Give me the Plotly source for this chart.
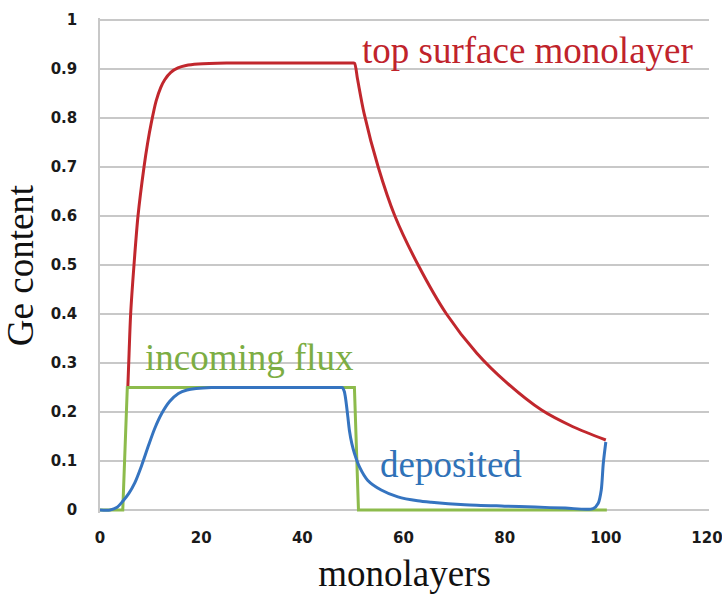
import plotly.graph_objects as go

# ---- data ----
top_x = [5.5, 5.75, 6.06, 6.72, 7.51, 8.7, 9.4, 10.14, 11.1, 12.0, 12.8, 14.0, 15.4, 17.0, 19.4, 25, 35, 45, 49.8,
         50.3, 50.9, 52.2, 55.0, 58.3, 62.9, 68.5, 74.5, 80.4, 87.3, 93.5, 100.0]
top_y = [0.25, 0.32, 0.40, 0.50, 0.60, 0.70, 0.748, 0.79, 0.835, 0.862, 0.878, 0.893, 0.902, 0.907, 0.91, 0.912, 0.912, 0.912, 0.912,
         0.912, 0.88, 0.81, 0.70, 0.60, 0.50, 0.40, 0.32, 0.26, 0.204, 0.17, 0.143]

flux_x = [0, 4.5, 5.4, 50.3, 51.1, 100.2]
flux_y = [0, 0, 0.25, 0.25, 0, 0]

dep_x = [0, 2.0, 3.3, 4.5, 5.7, 6.9, 8.2, 9.5, 10.8, 12.2, 13.8, 15.5, 17.2, 19.0, 22.0, 30, 40, 47.6, 47.9,
         48.3, 48.6, 49.0, 49.3, 49.8, 50.3, 51.3, 52.9, 55.6, 58.9, 62.8, 65.5, 72.1, 80, 86, 92, 97.5,
         98.5, 99.1, 99.5, 100.0]
dep_y = [0, 0, 0.005, 0.018, 0.034, 0.056, 0.09, 0.129, 0.166, 0.197, 0.222, 0.238, 0.245, 0.248, 0.25, 0.25, 0.25, 0.25, 0.25,
         0.242, 0.224, 0.19, 0.163, 0.135, 0.116, 0.088, 0.061, 0.041, 0.027, 0.019, 0.016, 0.011, 0.008, 0.006, 0.004, 0.003,
         0.014, 0.041, 0.095, 0.139]

x_ticks = [0, 20, 40, 60, 80, 100, 120]
y_ticks = [0, 0.1, 0.2, 0.3, 0.4, 0.5, 0.6, 0.7, 0.8, 0.9, 1]
y_ticktext = ["0", "0.1", "0.2", "0.3", "0.4", "0.5", "0.6", "0.7", "0.8", "0.9", "1"]

labels = ["top surface monolayer", "incoming flux", "deposited"]

RED = "#c1272d"
GREEN = "#8dbb4c"
BLUE = "#3574c0"

fig = go.Figure()
fig.add_trace(go.Scatter(x=top_x, y=top_y, mode="lines",
                         line=dict(color=RED, width=3, shape="spline", smoothing=0.8), name=labels[0]))
fig.add_trace(go.Scatter(x=flux_x, y=flux_y, mode="lines", line=dict(color=GREEN, width=3), name=labels[1]))
fig.add_trace(go.Scatter(x=dep_x, y=dep_y, mode="lines",
                         line=dict(color=BLUE, width=3, shape="spline", smoothing=0.8), name=labels[2]))

serif = "Liberation Serif, Times New Roman, serif"
tickfont = dict(family="DejaVu Sans, Verdana, sans-serif", size=15, color="#1a1a1a", weight="bold")

fig.update_layout(
    width=722, height=597,
    margin=dict(l=100, r=13, t=18, b=84),
    paper_bgcolor="white", plot_bgcolor="white",
    showlegend=False,
    xaxis=dict(range=[0, 120.4], tickvals=x_ticks, showgrid=False, zeroline=False,
               showline=False, ticks="", tickfont=tickfont, ticklabelstandoff=14,
               ticklabeloverflow="allow", automargin=False,
               title=dict(text="monolayers", font=dict(family=serif, size=37, color="#111"), standoff=14)),
    yaxis=dict(range=[-0.006, 1.004], tickvals=y_ticks, ticktext=y_ticktext, showgrid=True,
               gridcolor="#c8c8c8", gridwidth=1.5, zeroline=False, automargin=False,
               showline=True, linecolor="#c8c8c8", linewidth=1.5, ticks="",
               tickfont=tickfont, ticklabelstandoff=18,
               title=dict(text="Ge content", font=dict(family=serif, size=37, color="#111"), standoff=10)),
    annotations=[
        dict(x=51.4, y=0.938, xref="x", yref="y", text=labels[0], showarrow=False,
             xanchor="left", yanchor="middle", font=dict(family=serif, size=37, color="#c0232b")),
        dict(x=8.5, y=0.312, xref="x", yref="y", text=labels[1], showarrow=False,
             xanchor="left", yanchor="middle", font=dict(family=serif, size=37, color="#7cad43")),
        dict(x=55.0, y=0.092, xref="x", yref="y", text=labels[2], showarrow=False,
             xanchor="left", yanchor="middle", font=dict(family=serif, size=37, color="#2f72b8")),
    ],
)

fig.write_html("out.html")
